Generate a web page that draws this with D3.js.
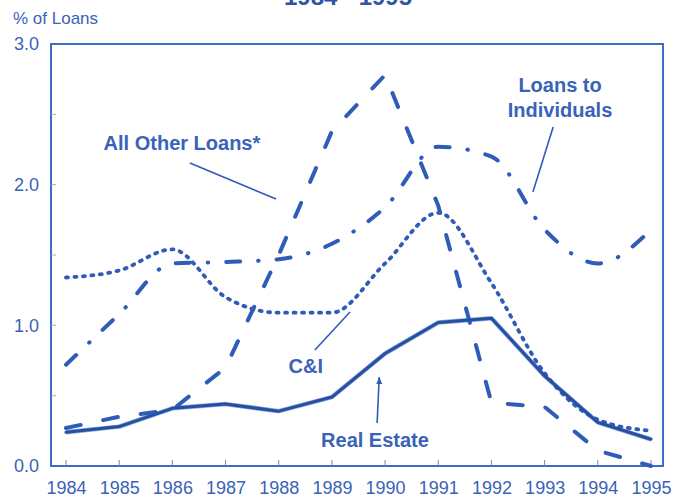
<!DOCTYPE html>
<html>
<head>
<meta charset="utf-8">
<script src="https://cdn.jsdelivr.net/npm/d3@7"></script>
<style>
  body { margin: 0; background: #fff; }
  svg { display: block; font-family: 'Liberation Sans', Arial, sans-serif; }
</style>
</head>
<body>
<script>
// loan charge-off rates by type, 1984 - 1995

var years = [1984, 1985, 1986, 1987, 1988, 1989, 1990, 1991, 1992, 1993, 1994, 1995];
var realEstate = [0.24, 0.28, 0.41, 0.44, 0.39, 0.49, 0.80, 1.02, 1.05, 0.64, 0.31, 0.19];
var commercialIndustrial = [1.34, 1.39, 1.54, 1.20, 1.09, 1.09, 1.44, 1.80, 1.30, 0.66, 0.33, 0.25];
var loansToIndividuals = [0.72, 1.08, 1.44, 1.45, 1.47, 1.58, 1.84, 2.27, 2.20, 1.68, 1.44, 1.68];
var allOtherLoans = [0.27, 0.35, 0.40, 0.70, 1.50, 2.38, 2.78, 1.85, 0.45, 0.42, 0.11, 0.00];
var yTickValues = [0, 1, 2, 3];
var yMinorTicks = [0.5, 1, 1.5, 2, 2.5];

var width = 683;
var height = 498;
var boxLeft = 51, boxRight = 663, boxTop = 44, boxBottom = 466;

var lineColor = '#2f5cb8';
var textColor = '#3a62b8';

var svg = d3.select('body').append('svg:svg')
  .attr('width', width)
  .attr('height', height);

var x = d3.scaleLinear().domain([1984, 1995]).range([66, 651]);
var y = d3.scaleLinear().domain([0, 3]).range([boxBottom, boxTop]);

// title, mostly cut off at the top of the picture (as in the scan)
svg.append('text')
  .attr('x', 348)
  .attr('y', 4.5)
  .attr('text-anchor', 'middle')
  .attr('font-size', 24)
  .attr('font-weight', 'bold')
  .attr('fill', '#2c55a8')
  .text('1984 - 1995');

svg.append('text')
  .attr('x', 13)
  .attr('y', 24)
  .attr('font-size', 17)
  .attr('fill', textColor)
  .text('% of Loans');

// frame
svg.append('rect')
  .attr('x', boxLeft)
  .attr('y', boxTop)
  .attr('width', boxRight - boxLeft)
  .attr('height', boxBottom - boxTop)
  .attr('fill', 'none')
  .attr('stroke', '#3d6cc6')
  .attr('stroke-width', 2);

// inner ticks
svg.selectAll('line.xtick')
  .data(years)
  .enter().append('line')
  .attr('class', 'xtick')
  .attr('x1', function(d) { return x(d); })
  .attr('x2', function(d) { return x(d); })
  .attr('y1', boxBottom)
  .attr('y2', boxBottom - 6)
  .attr('stroke', '#6a86c4')
  .attr('stroke-width', 1);

svg.selectAll('line.ytick')
  .data(yMinorTicks)
  .enter().append('line')
  .attr('class', 'ytick')
  .attr('x1', boxLeft)
  .attr('x2', boxLeft + 5)
  .attr('y1', function(d) { return y(d); })
  .attr('y2', function(d) { return y(d); })
  .attr('stroke', '#9aaad0')
  .attr('stroke-width', 1);

// axes labels
var yAxis = svg.append('g')
  .attr('transform', 'translate(' + boxLeft + ',0)')
  .call(d3.axisLeft(y).tickValues(yTickValues).tickFormat(d3.format('.1f')).tickSize(0).tickPadding(12));

var xAxis = svg.append('g')
  .attr('transform', 'translate(0,' + boxBottom + ')')
  .call(d3.axisBottom(x).tickValues(years).tickFormat(d3.format('d')).tickSize(0).tickPadding(15));

[yAxis, xAxis].forEach(function(g) {
  g.select('.domain').remove();
  g.attr('font-family', null);
  g.selectAll('text')
    .attr('font-size', 18)
    .attr('fill', textColor);
});

// series
var series = [
  { name: 'allOther', values: allOtherLoans, curve: d3.curveLinear, dash: '15 23', w: 4 },
  { name: 'individuals', values: loansToIndividuals, curve: d3.curveMonotoneX, dash: '14 18 0.5 18', w: 4 },
  { name: 'ci', values: commercialIndustrial, curve: d3.curveMonotoneX, dash: '2 6.5', w: 3.8 },
  { name: 'realEstate', values: realEstate, curve: d3.curveLinear, dash: null, w: 3 }
];

var makeLine = function(curve) {
  return d3.line()
    .x(function(d, i) { return x(years[i]); })
    .y(function(d) { return y(d); })
    .curve(curve);
};

// light halo under the solid line, like the scan
svg.append('path')
  .attr('d', makeLine(d3.curveLinear)(realEstate))
  .attr('fill', 'none')
  .attr('stroke', '#86a8e4')
  .attr('stroke-width', 4.5)
  .attr('stroke-linejoin', 'round');

svg.selectAll('path.series')
  .data(series)
  .enter().append('path')
  .attr('class', 'series')
  .attr('d', function(d) { return makeLine(d.curve)(d.values); })
  .attr('fill', 'none')
  .attr('stroke', function(d) { return d.name === 'realEstate' ? '#284f9e' : lineColor; })
  .attr('stroke-width', function(d) { return d.w; })
  .attr('stroke-dasharray', function(d) { return d.dash; })
  .attr('stroke-linecap', 'round')
  .attr('stroke-linejoin', 'round');

// annotations, placed in data units
var labels = [
  { text: 'All Other Loans*', yr: 1986.18, v: 2.246 },
  { text: 'Loans to', yr: 1993.29, v: 2.659 },
  { text: 'Individuals', yr: 1993.29, v: 2.481 },
  { text: 'C&I', yr: 1988.51, v: 0.661 },
  { text: 'Real Estate', yr: 1989.81, v: 0.135 }
];

var leaders = [
  { x1: 1986.33, v1: 2.154, x2: 1987.95, v2: 1.898 },
  { x1: 1993.16, v1: 2.41, x2: 1992.78, v2: 1.948 },
  { x1: 1988.68, v1: 0.825, x2: 1989.34, v2: 1.095 },
  { x1: 1989.85, v1: 0.306, x2: 1989.89, v2: 0.633 }
];

svg.selectAll('text.label')
  .data(labels)
  .enter().append('text')
  .attr('class', 'label')
  .attr('x', function(d) { return x(d.yr); })
  .attr('y', function(d) { return y(d.v); })
  .attr('text-anchor', 'middle')
  .attr('font-size', 20)
  .attr('font-weight', 'bold')
  .attr('fill', textColor)
  .text(function(d) { return d.text; });

svg.selectAll('line.leader')
  .data(leaders)
  .enter().append('line')
  .attr('class', 'leader')
  .attr('x1', function(d) { return x(d.x1); })
  .attr('y1', function(d) { return y(d.v1); })
  .attr('x2', function(d) { return x(d.x2); })
  .attr('y2', function(d) { return y(d.v2); })
  .attr('stroke', lineColor)
  .attr('stroke-width', 1.6);

// small arrow head on the real estate pointer
var tip = leaders[3];
svg.append('path')
  .attr('d', 'M' + (x(tip.x2) - 3) + ',' + (y(tip.v2) + 7) + 'L' + x(tip.x2) + ',' + y(tip.v2) + 'L' + (x(tip.x2) + 3) + ',' + (y(tip.v2) + 7) + 'Z')
  .attr('fill', lineColor);
</script>
</body>
</html>
